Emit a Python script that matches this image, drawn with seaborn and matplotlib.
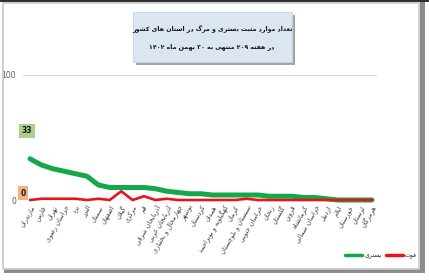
import re
import numpy as np
import pandas as pd
import matplotlib
matplotlib.use("Agg")
import matplotlib.pyplot as plt
from matplotlib.patches import Rectangle
from matplotlib.lines import Line2D
import seaborn as sns

# ---------------- data ----------------
provinces = ["مازندران", "فارس", "تهران", "خراسان رضوی", "یزد", "البرز", "سمنان",
             "اصفهان", "گیلان", "مرکزی", "قم", "آذربایجان شرقی", "آذربایجان غربی",
             "چهارمحال و بختیاری", "بوشهر", "کردستان", "همدان", "کهگیلویه و بویراحمد",
             "کرمان", "سیستان و بلوچستان", "خراسان جنوبی", "زنجان", "گلستان", "قزوین",
             "کرمانشاه", "خراسان شمالی", "اردبیل", "ایلام", "خوزستان", "لرستان", "هرمزگان"]
hospitalized = [33, 28, 25, 23, 21, 19, 12, 10, 10, 10, 10, 9, 7, 6, 5, 5, 4, 4, 4, 4,
                4, 3, 3, 3, 2, 2, 1, 0, 0, 0, 0]
deaths = [0, 1, 1, 1, 1, 0, 1, 0, 7, 0, 3, 0, 1, 0, 0, 0, 0, 0, 0, 1,
          0, 0, 0, 0, 0, 0, 0, 0, 0, 0, 0]
series_names = ["بستری", "فوت"]
yticks = [0, 100]
title_lines = ["تعداد موارد مثبت بستری و مرگ در استان های کشور",
               "در هفته ۲۰۹ منتهی به ۳۰ بهمن ماه ۱۴۰۲"]

# ---------------- minimal Arabic/Persian shaping ----------------
F = {
    'ا': ('\uFE8D', '\uFE8E', None, None), 'آ': ('\uFE81', '\uFE82', None, None),
    'أ': ('\uFE83', '\uFE84', None, None),
    'ب': ('\uFE8F', '\uFE90', '\uFE91', '\uFE92'), 'ت': ('\uFE95', '\uFE96', '\uFE97', '\uFE98'),
    'ث': ('\uFE99', '\uFE9A', '\uFE9B', '\uFE9C'), 'ج': ('\uFE9D', '\uFE9E', '\uFE9F', '\uFEA0'),
    'ح': ('\uFEA1', '\uFEA2', '\uFEA3', '\uFEA4'), 'خ': ('\uFEA5', '\uFEA6', '\uFEA7', '\uFEA8'),
    'د': ('\uFEA9', '\uFEAA', None, None), 'ذ': ('\uFEAB', '\uFEAC', None, None),
    'ر': ('\uFEAD', '\uFEAE', None, None), 'ز': ('\uFEAF', '\uFEB0', None, None),
    'س': ('\uFEB1', '\uFEB2', '\uFEB3', '\uFEB4'), 'ش': ('\uFEB5', '\uFEB6', '\uFEB7', '\uFEB8'),
    'ص': ('\uFEB9', '\uFEBA', '\uFEBB', '\uFEBC'), 'ض': ('\uFEBD', '\uFEBE', '\uFEBF', '\uFEC0'),
    'ط': ('\uFEC1', '\uFEC2', '\uFEC3', '\uFEC4'), 'ظ': ('\uFEC5', '\uFEC6', '\uFEC7', '\uFEC8'),
    'ع': ('\uFEC9', '\uFECA', '\uFECB', '\uFECC'), 'غ': ('\uFECD', '\uFECE', '\uFECF', '\uFED0'),
    'ف': ('\uFED1', '\uFED2', '\uFED3', '\uFED4'), 'ق': ('\uFED5', '\uFED6', '\uFED7', '\uFED8'),
    'ل': ('\uFEDD', '\uFEDE', '\uFEDF', '\uFEE0'), 'م': ('\uFEE1', '\uFEE2', '\uFEE3', '\uFEE4'),
    'ن': ('\uFEE5', '\uFEE6', '\uFEE7', '\uFEE8'), 'ه': ('\uFEE9', '\uFEEA', '\uFEEB', '\uFEEC'),
    'و': ('\uFEED', '\uFEEE', None, None),
    'پ': ('\uFB56', '\uFB57', '\uFB58', '\uFB59'), 'چ': ('\uFB7A', '\uFB7B', '\uFB7C', '\uFB7D'),
    'ژ': ('\uFB8A', '\uFB8B', None, None), 'ک': ('\uFB8E', '\uFB8F', '\uFB90', '\uFB91'),
    'گ': ('\uFB92', '\uFB93', '\uFB94', '\uFB95'), 'ی': ('\uFBFC', '\uFBFD', '\uFBFE', '\uFBFF'),
}


def dual(c):
    return c in F and F[c][2] is not None


def shape(text):
    out = []
    i = 0
    n = len(text)
    while i < n:
        c = text[i]
        if c not in F:
            out.append(c)
            i += 1
            continue
        prev_j = i > 0 and dual(text[i - 1])
        if c == 'ل' and i + 1 < n and text[i + 1] == 'ا':
            out.append('\uFEFC' if prev_j else '\uFEFB')
            i += 2
            continue
        next_j = dual(c) and i + 1 < n and text[i + 1] in F
        iso, fin, ini, med = F[c]
        if prev_j and next_j:
            g = med
        elif prev_j:
            g = fin
        elif next_j:
            g = ini
        else:
            g = iso
        out.append(g)
        i += 1
    s = ''.join(out)[::-1]
    s = re.sub(r'[\u06F0-\u06F90-9]+', lambda m: m.group(0)[::-1], s)
    return s


# ---------------- figure ----------------
sns.set_theme(style="white")
plt.rcParams['font.family'] = ['DejaVu Sans']

W, H = 429, 280
fig = plt.figure(figsize=(W / 100, H / 100), dpi=100)
fig.patch.set_facecolor("white")


def fx(px):
    return px / W


def fy(py):
    return 1 - py / H


# frame
fig.add_artist(Rectangle((fx(0), fy(2)), fx(429), 2 / H, transform=fig.transFigure,
                         facecolor="#303030", edgecolor="none"))
fig.add_artist(Rectangle((fx(420), fy(273)), 5 / W, 271 / H, transform=fig.transFigure,
                         facecolor="#8c8c8c", edgecolor="none"))
fig.add_artist(Rectangle((fx(4), fy(273)), 421 / W, 4 / H, transform=fig.transFigure,
                         facecolor="#8c8c8c", edgecolor="none"))
fig.add_artist(Rectangle((fx(3), fy(269)), 416 / W, 266 / H, transform=fig.transFigure,
                         facecolor="none", edgecolor="#c8c8c8", lw=1.2))

ax = fig.add_axes([fx(23), fy(200), (377 - 23) / W, (200 - 75) / H])
ax.set_facecolor("none")

x = np.arange(len(provinces))
df = pd.DataFrame({"x": np.concatenate([x, x]),
                   "v": hospitalized + deaths,
                   "s": [series_names[0]] * len(x) + [series_names[1]] * len(x)})
palette = {series_names[0]: "#14a84a", series_names[1]: "#e8141c"}
sns.lineplot(data=df[df.s == series_names[0]], x="x", y="v", color=palette[series_names[0]],
             lw=3.6, ax=ax, legend=False, clip_on=False, zorder=3)
sns.lineplot(data=df[df.s == series_names[1]], x="x", y="v", color=palette[series_names[1]],
             lw=1.9, ax=ax, legend=False, clip_on=False, zorder=4)

ax.set_xlim(-0.614, 30.44)
ax.set_ylim(0, 100)
ax.set_yticks(yticks)
ax.set_yticklabels([str(t) for t in yticks], fontsize=5.5, color="#595959")
ax.tick_params(axis="y", length=0, pad=5)
ax.axhline(100, color="#d9d9d9", lw=0.8, zorder=1)
ax.axhline(0, color="#d0d0d0", lw=0.8, zorder=1)
for s in ax.spines.values():
    s.set_visible(False)
ax.set_xlabel("")
ax.set_ylabel("")
ax.set_xticks(x)
ax.set_xticklabels([shape(p) for p in provinces], rotation=60, ha="right",
                   rotation_mode="anchor", fontsize=4.7, color="#404040")
ax.tick_params(axis="x", length=0, pad=3)

# data labels
ax.annotate(str(hospitalized[0]), xy=(0, hospitalized[0]), xytext=(-3, 28),
            textcoords="offset pixels", ha="center", va="center", fontsize=5.5,
            color="#1a1a1a", fontweight="bold",
            bbox=dict(boxstyle="square,pad=0.35", fc="#a9d08e", ec="none"))
ax.annotate(str(deaths[0]), xy=(0, deaths[0]), xytext=(-7, 7),
            textcoords="offset pixels", ha="center", va="center", fontsize=5.5,
            color="#1a1a1a", fontweight="bold",
            bbox=dict(boxstyle="square,pad=0.35", fc="#f4b183", ec="none"))

# legend
handles = [Line2D([], [], color=palette[series_names[0]], lw=2.5),
           Line2D([], [], color=palette[series_names[1]], lw=2.5)]
fig.legend(handles, [shape(n) for n in series_names], ncol=2, frameon=False,
           fontsize=4.5, loc="center", bbox_to_anchor=(fx(381), fy(256)),
           handlelength=2.8, handletextpad=0.3, columnspacing=0.6)

# title box
fig.add_artist(Rectangle((fx(136), fy(65)), 159 / W, 50 / H, transform=fig.transFigure,
                         facecolor="#a6a6a6", edgecolor="none", zorder=5))
fig.add_artist(Rectangle((fx(133), fy(62)), 159 / W, 50 / H, transform=fig.transFigure,
                         facecolor="#dce6f2", edgecolor="#c5d4e8", lw=0.6, zorder=6))
fig.text(fx(212), fy(29), shape(title_lines[0]), ha="center", va="center",
         fontsize=4.5, fontweight="bold", color="#111111", zorder=7)
fig.text(fx(212), fy(47), shape(title_lines[1]), ha="center", va="center",
         fontsize=4.5, fontweight="bold", color="#111111", zorder=7)

fig.savefig("out.png", dpi=100)
